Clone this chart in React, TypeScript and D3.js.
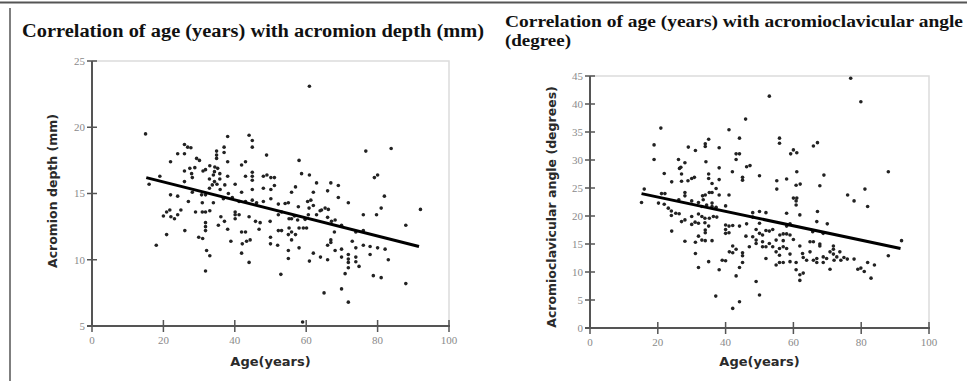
import React from 'react';
import * as d3 from 'd3';

// age (years) vs acromion depth (mm)
const depthPoints: [number, number][] = [
  [60.9, 23.1], [15.0, 19.5], [38.0, 19.3], [44.0, 19.4], [44.9, 19.0], [44.9, 18.5], [25.9, 18.7], [26.8, 18.5],
  [27.7, 18.45], [24.0, 18.0], [25.9, 18.0], [37.0, 18.5], [34.9, 18.2], [34.9, 17.9], [37.0, 18.1], [34.9, 17.65],
  [48.9, 17.9], [58.0, 17.5], [76.7, 18.2], [83.8, 18.4], [22.0, 17.4], [29.3, 17.65], [30.1, 17.5], [43.0, 17.4],
  [41.9, 17.15], [38.0, 17.4], [25.9, 16.7], [27.4, 16.9], [28.8, 16.95], [31.8, 16.8], [31.1, 16.7], [33.0, 17.1],
  [34.4, 17.0], [35.2, 16.9], [34.3, 16.65], [35.8, 16.5], [34.0, 16.4], [27.9, 16.5], [28.1, 16.2], [32.9, 16.1],
  [34.3, 15.9], [35.8, 16.1], [35.0, 15.7], [33.7, 15.65], [32.9, 15.4], [38.0, 16.3], [37.2, 15.65], [40.1, 15.7],
  [43.0, 16.3], [44.9, 16.6], [44.9, 16.3], [44.9, 16.0], [48.0, 16.3], [49.0, 16.4], [50.1, 16.2], [51.1, 16.2],
  [19.0, 16.3], [16.0, 15.7], [25.9, 15.9], [58.7, 16.5], [60.9, 16.4], [79.1, 16.2], [80.0, 16.4], [62.9, 15.8],
  [66.9, 15.8], [69.0, 15.6], [57.0, 15.5], [55.9, 15.1], [48.0, 15.4], [50.1, 15.3], [51.1, 15.6], [44.9, 15.3],
  [41.9, 15.1], [39.3, 14.7], [41.2, 14.4], [35.9, 15.3], [38.2, 15.0], [28.1, 15.1], [27.0, 14.4], [22.0, 14.9],
  [24.0, 14.8], [30.7, 14.9], [31.8, 14.9], [62.0, 15.1], [66.0, 15.2], [69.0, 14.7], [81.9, 14.8], [71.8, 14.3],
  [30.9, 14.3], [34.0, 14.3], [36.8, 14.6], [43.0, 14.4], [44.9, 14.5], [46.1, 14.3], [48.0, 14.4], [50.1, 14.6],
  [52.2, 14.2], [54.1, 14.25], [55.0, 14.3], [60.4, 14.4], [61.3, 14.5], [57.8, 14.0], [60.8, 13.9], [62.0, 14.1],
  [64.3, 13.75], [65.3, 13.9], [66.2, 13.8], [62.9, 13.4], [63.9, 13.7], [81.0, 13.9], [79.7, 13.4], [76.0, 13.4],
  [92.0, 13.8], [29.0, 13.6], [30.9, 13.6], [31.8, 13.6], [33.0, 13.7], [21.8, 13.75], [20.9, 13.6], [20.0, 13.3],
  [22.1, 13.25], [23.1, 13.1], [24.0, 13.4], [24.9, 13.75], [40.1, 13.6], [40.1, 13.4], [40.1, 13.1], [41.2, 13.4],
  [44.0, 13.25], [36.1, 13.25], [37.1, 12.9], [45.8, 12.9], [47.1, 12.8], [49.9, 12.9], [52.2, 13.4], [53.1, 13.6],
  [55.2, 13.1], [55.9, 13.1], [57.6, 13.0], [56.7, 13.3], [60.6, 13.4], [59.7, 13.05], [66.0, 13.2], [67.1, 12.9],
  [68.1, 13.0], [67.9, 12.1], [87.9, 12.6], [69.9, 12.6], [73.9, 12.1], [76.0, 12.2], [26.0, 12.2], [31.8, 12.8],
  [31.8, 12.5], [31.8, 12.2], [35.4, 12.6], [38.0, 12.3], [41.9, 12.1], [43.0, 12.1], [46.8, 12.3], [52.2, 12.2],
  [53.1, 12.2], [55.2, 12.4], [55.9, 12.1], [58.0, 12.4], [59.2, 12.4], [60.1, 12.4], [20.9, 11.9], [29.9, 11.7],
  [31.0, 11.6], [38.9, 11.4], [42.1, 11.2], [43.3, 11.4], [44.3, 11.5], [50.0, 11.7], [50.0, 11.2], [52.0, 11.1],
  [55.0, 11.9], [55.9, 11.5], [57.0, 11.9], [66.9, 11.5], [66.9, 11.3], [66.0, 11.1], [72.9, 11.4], [73.9, 10.9],
  [76.0, 11.1], [77.9, 11.0], [80.0, 10.9], [82.1, 10.8], [68.1, 10.7], [69.9, 10.8], [58.0, 10.9], [55.0, 10.7],
  [18.0, 11.1], [32.1, 10.7], [33.0, 10.3], [41.9, 10.5], [44.0, 9.8], [55.0, 10.1], [62.0, 10.5], [60.9, 9.9],
  [64.0, 10.2], [66.0, 10.0], [69.9, 10.2], [71.8, 10.4], [71.8, 10.05], [71.8, 9.8], [71.8, 9.4], [73.9, 10.2],
  [73.9, 9.85], [74.8, 9.5], [77.9, 10.4], [83.0, 10.0], [31.8, 9.15], [52.9, 8.9], [70.9, 8.95], [78.8, 8.8],
  [81.0, 8.65], [87.9, 8.2], [65.0, 7.5], [69.9, 7.8], [71.8, 6.8], [59.0, 5.3],
];

// age (years) vs acromioclavicular angle (degrees)
const anglePoints: [number, number][] = [
  [76.9, 44.6], [79.9, 40.4], [52.9, 41.4], [45.9, 37.3], [20.9, 35.7], [41.0, 35.4], [18.9, 32.7], [18.9, 30.1],
  [55.9, 33.9], [55.9, 33.0], [44.1, 33.9], [35.0, 33.7], [34.0, 32.9], [34.0, 32.4], [29.0, 32.3], [31.1, 31.7],
  [38.1, 32.2], [43.1, 31.1], [44.1, 31.1], [43.1, 30.1], [65.9, 32.5], [67.1, 33.1], [59.2, 31.1], [60.0, 31.8],
  [61.0, 31.3], [26.1, 30.1], [28.0, 29.5], [26.8, 28.7], [26.4, 28.5], [27.0, 27.5], [34.2, 29.7], [38.1, 28.6],
  [46.2, 28.8], [47.2, 29.0], [21.9, 27.6], [24.1, 26.1], [42.0, 27.9], [45.0, 26.9], [45.0, 26.4], [50.0, 27.2],
  [35.0, 27.5], [35.0, 26.7], [36.0, 25.8], [38.1, 26.5], [30.0, 26.7], [30.8, 26.9], [28.9, 26.3], [27.0, 26.2],
  [55.1, 26.3], [55.1, 24.8], [58.0, 26.6], [61.0, 27.9], [60.8, 25.5], [62.0, 25.7], [69.0, 27.3], [67.8, 25.4],
  [88.0, 27.9], [81.1, 24.8], [76.0, 23.75], [77.9, 22.7], [81.9, 21.7], [16.0, 24.8], [15.2, 22.4], [21.1, 24.0],
  [22.1, 24.0], [20.2, 22.3], [21.9, 22.1], [28.0, 24.2], [28.0, 23.6], [26.2, 22.9], [30.0, 22.7], [33.2, 23.6],
  [34.0, 23.75], [35.2, 24.2], [36.0, 24.2], [37.2, 24.9], [38.1, 23.75], [41.0, 23.75], [40.0, 21.8], [33.4, 22.9],
  [32.0, 22.4], [33.0, 21.7], [34.4, 21.96], [36.0, 22.3], [36.0, 21.7], [37.2, 21.55], [23.1, 21.4], [24.0, 20.9],
  [24.0, 20.1], [25.3, 20.5], [26.3, 20.4], [27.0, 19.0], [28.0, 19.3], [30.0, 19.9], [32.0, 20.35], [32.0, 18.7],
  [33.0, 19.9], [33.9, 19.6], [33.9, 18.8], [35.2, 19.6], [36.4, 19.9], [37.4, 19.8], [24.1, 17.3], [30.0, 18.5],
  [31.0, 18.9], [35.0, 18.2], [34.0, 17.5], [34.0, 17.0], [40.0, 18.4], [41.0, 18.2], [40.0, 17.6], [41.0, 17.0],
  [40.0, 16.9], [42.1, 18.3], [44.1, 18.2], [46.2, 18.6], [48.0, 20.6], [50.0, 20.8], [51.9, 20.6], [48.0, 19.8],
  [50.0, 18.7], [49.0, 17.6], [50.0, 16.9], [50.9, 16.6], [51.9, 17.4], [52.9, 17.3], [53.9, 17.6], [46.0, 16.4],
  [48.0, 16.3], [49.0, 15.7], [50.9, 15.4], [58.0, 20.5], [61.9, 20.2], [67.1, 20.8], [60.8, 22.7], [60.8, 21.96],
  [60.0, 23.2], [61.0, 23.2], [58.0, 18.2], [59.0, 18.6], [56.0, 16.6], [57.0, 16.8], [58.0, 16.8], [59.0, 16.6],
  [60.0, 15.8], [54.9, 15.7], [57.0, 15.6], [53.9, 14.5], [55.9, 14.2], [66.9, 19.0], [70.0, 18.6], [65.7, 17.2],
  [68.8, 16.9], [61.9, 14.65], [64.9, 15.4], [65.9, 15.4], [67.8, 15.0], [67.8, 14.65], [71.8, 14.65], [71.8, 14.05],
  [70.8, 13.6], [71.8, 13.2], [73.7, 13.6], [72.8, 12.7], [28.0, 15.5], [31.1, 15.3], [32.0, 16.4], [33.0, 15.7],
  [34.0, 15.6], [36.0, 15.6], [31.1, 13.3], [35.0, 11.85], [32.0, 10.8], [38.1, 10.4], [39.0, 12.1], [40.0, 12.0],
  [41.1, 13.6], [42.1, 14.65], [42.1, 13.45], [43.1, 14.05], [45.0, 13.45], [45.0, 12.9], [45.0, 11.7], [44.1, 10.8],
  [47.0, 14.5], [49.0, 15.1], [50.9, 14.5], [51.9, 14.5], [51.9, 12.4], [52.9, 15.1], [54.9, 13.6], [55.9, 13.0],
  [57.0, 14.5], [58.0, 14.2], [59.0, 13.2], [59.0, 11.85], [57.0, 11.7], [55.9, 11.7], [54.9, 11.25], [60.8, 11.7],
  [60.8, 10.4], [62.7, 13.3], [62.9, 12.6], [63.9, 12.1], [64.9, 13.6], [65.9, 12.1], [66.9, 12.4], [66.9, 11.7],
  [68.8, 11.7], [68.8, 12.7], [69.8, 12.4], [72.0, 12.1], [74.0, 12.1], [74.9, 12.6], [75.9, 12.3], [77.9, 12.3],
  [70.8, 10.5], [61.9, 9.5], [62.9, 9.8], [61.9, 8.5], [79.0, 10.5], [79.9, 10.7], [80.9, 10.1], [81.9, 11.7],
  [83.9, 11.25], [82.9, 8.9], [88.0, 12.9], [91.9, 15.6], [43.1, 9.3], [49.0, 8.3], [37.1, 5.7], [44.1, 4.7],
  [42.1, 3.5], [50.0, 5.9],
];

// fitted regression lines (start / end)
const depthFit: [number, number][] = [[15.2, 16.2], [91.6, 11.0]];
const angleFit: [number, number][] = [[15.2, 24.0], [91.6, 14.2]];

const ageTicks = [0, 20, 40, 60, 80, 100];
const depthTicks = [5, 10, 15, 20, 25];
const angleTicks = [0, 5, 10, 15, 20, 25, 30, 35, 40, 45];

const TICK_FONT = '"Liberation Serif", serif';
const LABEL_FONT = '"DejaVu Sans", sans-serif';
const TITLE_FONT = '"Liberation Serif", "Times New Roman", serif';

type PanelProps = {
  x: d3.ScaleLinear<number, number>;
  y: d3.ScaleLinear<number, number>;
  yTicks: number[];
  points: [number, number][];
  fit: [number, number][];
  yLabel: string;
  yLabelX: number;
  yLabelY: number;
  yLabelSize: number;
};

function Panel({ x, y, yTicks, points, fit, yLabel, yLabelX, yLabelY, yLabelSize }: PanelProps) {
  const [x0, x1] = x.range();
  const [y0, y1] = y.range();
  const line = d3.line<[number, number]>().x(d => x(d[0])).y(d => y(d[1]));
  return (
    <g>
      {/* light frame on top and right */}
      <path d={`M${x0},${y1}H${x1}V${y0}`} fill="none" stroke="#dcdcdc" strokeWidth={1.5} />
      {/* axes */}
      <line x1={x0} x2={x0} y1={y1} y2={y0 + 1} stroke="#555" strokeWidth={2} />
      <line x1={x0 - 5} x2={x1 + 1} y1={y0} y2={y0} stroke="#555" strokeWidth={2} />
      {yTicks.map(t => (
        <g key={'y' + t}>
          <line x1={x0 - 5} x2={x0 + 5} y1={y(t)} y2={y(t)} stroke="#555" strokeWidth={1.5} />
          <text x={x0 - 7} y={y(t)} dy="0.35em" textAnchor="end" fontFamily={TICK_FONT} fontSize={11} fill="#8a8a8a">
            {t}
          </text>
        </g>
      ))}
      {ageTicks.map(t => (
        <g key={'x' + t}>
          <line x1={x(t)} x2={x(t)} y1={y0 - 6} y2={y0 + 6} stroke="#555" strokeWidth={1.5} />
          <text x={x(t)} y={y0 + 18} textAnchor="middle" fontFamily={TICK_FONT} fontSize={11} fill="#8a8a8a">
            {t}
          </text>
        </g>
      ))}
      {points.map((d, i) => (
        <circle key={i} cx={x(d[0])} cy={y(d[1])} r={1.8} fill="#222" />
      ))}
      <path d={line(fit) ?? ''} fill="none" stroke="#000" strokeWidth={3} />
      <text
        transform={`translate(${yLabelX},${yLabelY}) rotate(-90)`}
        textAnchor="middle"
        dy="0.35em"
        fontFamily={LABEL_FONT}
        fontWeight="bold"
        fontSize={yLabelSize}
        fill="#2a2a2a"
      >
        {yLabel}
      </text>
      <text
        x={(x0 + x1) / 2}
        y={366}
        textAnchor="middle"
        fontFamily={LABEL_FONT}
        fontWeight="bold"
        fontSize={13}
        fill="#2a2a2a"
      >
        Age(years)
      </text>
    </g>
  );
}

export default function App() {
  const xLeft = d3.scaleLinear().domain([0, 100]).range([92, 449]);
  const yLeft = d3.scaleLinear().domain([5, 25]).range([326, 61]);
  const xRight = d3.scaleLinear().domain([0, 100]).range([590, 929]);
  const yRight = d3.scaleLinear().domain([0, 45]).range([328, 76]);

  return (
    <svg width={967} height={381} style={{ position: 'absolute', left: 0, top: 0, background: '#fff' }}>
      <rect width={967} height={381} fill="#fff" />
      <line x1={0} x2={967} y1={2.5} y2={2.5} stroke="#555" strokeWidth={2} />
      <line x1={10} x2={10} y1={8} y2={381} stroke="#555" strokeWidth={1.5} />

      <text x={22} y={37} textLength={462} lengthAdjust="spacingAndGlyphs" fontFamily={TITLE_FONT} fontWeight="bold" fontSize={18} fill="#111">
        Correlation of age (years) with acromion depth (mm)
      </text>
      <text x={505} y={27} textLength={458} lengthAdjust="spacingAndGlyphs" fontFamily={TITLE_FONT} fontWeight="bold" fontSize={17} fill="#111">
        Correlation of age (years) with acromioclavicular angle
      </text>
      <text x={505} y={46} textLength={66} lengthAdjust="spacingAndGlyphs" fontFamily={TITLE_FONT} fontWeight="bold" fontSize={17} fill="#111">
        (degree)
      </text>

      <Panel
        x={xLeft}
        y={yLeft}
        yTicks={depthTicks}
        points={depthPoints}
        fit={depthFit}
        yLabel="Acromion depth (mm)"
        yLabelX={53}
        yLabelY={191}
        yLabelSize={12.5}
      />
      <Panel
        x={xRight}
        y={yRight}
        yTicks={angleTicks}
        points={anglePoints}
        fit={angleFit}
        yLabel="Acromioclavicular angle (degrees)"
        yLabelX={552}
        yLabelY={207}
        yLabelSize={12.5}
      />
    </svg>
  );
}
